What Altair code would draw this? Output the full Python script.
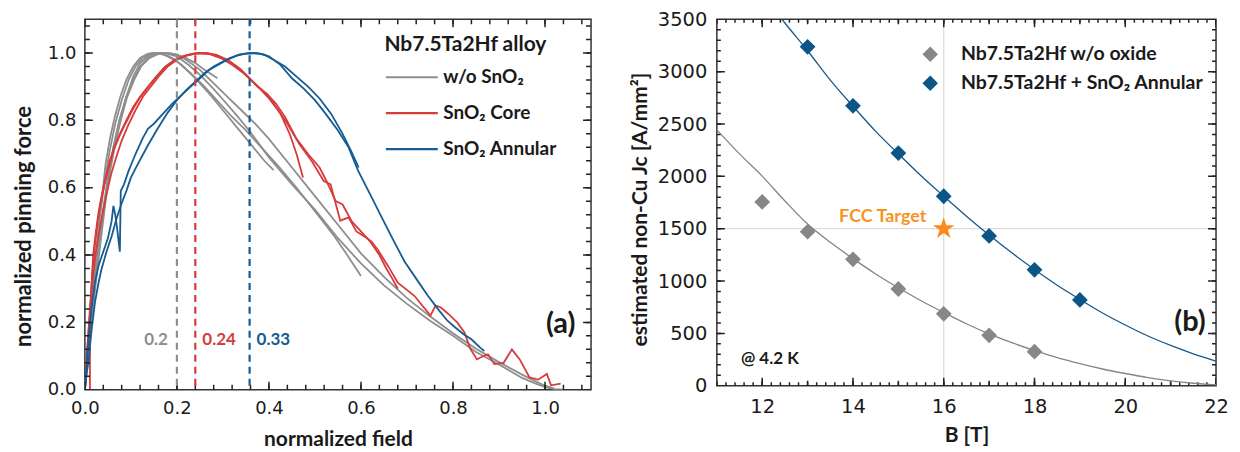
import altair as alt
import pandas as pd

# ---------------- panel (a): normalized pinning force vs normalized field ----------------
g1_x = [0.0, 0.005, 0.01, 0.015, 0.02, 0.025, 0.03, 0.037, 0.045, 0.055, 0.065, 0.077, 0.09, 0.105, 0.12, 0.135, 0.15,
        0.175, 0.2, 0.225, 0.25, 0.275, 0.3, 0.33, 0.357, 0.4, 0.45, 0.5, 0.55, 0.6, 0.65, 0.7, 0.75, 0.8, 0.85, 0.9,
        0.95, 0.98, 1.0, 1.02, 1.04]
g1_y = [0.0, 0.1, 0.17, 0.24, 0.32, 0.4, 0.48, 0.57, 0.67, 0.75, 0.81, 0.87, 0.92, 0.96, 0.985, 0.997, 1.0,
        1.0, 0.99, 0.965, 0.935, 0.9, 0.862, 0.815, 0.77, 0.69, 0.61, 0.535, 0.45, 0.375, 0.31, 0.255, 0.205, 0.16,
        0.112, 0.075, 0.035, 0.018, 0.008, 0.002, 0.0]

g2_x = [0.0, 0.006, 0.012, 0.02, 0.028, 0.036, 0.045, 0.055, 0.066, 0.078, 0.092, 0.107, 0.122, 0.14, 0.16, 0.18,
        0.2, 0.22, 0.25, 0.28, 0.31, 0.34, 0.37, 0.4, 0.45, 0.5, 0.55, 0.6, 0.65, 0.7, 0.75, 0.8, 0.85, 0.9, 0.95,
        0.98, 1.0, 1.02]
g2_y = [0.0, 0.09, 0.17, 0.27, 0.37, 0.46, 0.56, 0.65, 0.73, 0.8, 0.87, 0.92, 0.96, 0.985, 0.997, 1.0,
        0.995, 0.98, 0.95, 0.91, 0.87, 0.83, 0.79, 0.745, 0.66, 0.575, 0.49, 0.405, 0.335, 0.272, 0.218, 0.168,
        0.122, 0.082, 0.045, 0.025, 0.012, 0.003]

g3_x = [0.0, 0.007, 0.015, 0.024, 0.033, 0.043, 0.054, 0.066, 0.08, 0.095, 0.11, 0.125, 0.14, 0.16, 0.18, 0.2,
        0.23, 0.26, 0.29, 0.32, 0.35, 0.38, 0.42, 0.46, 0.5, 0.54, 0.57, 0.6]
g3_y = [0.0, 0.14, 0.27, 0.4, 0.52, 0.62, 0.71, 0.79, 0.86, 0.92, 0.96, 0.985, 0.998, 1.0, 0.99, 0.975,
        0.94, 0.9, 0.855, 0.81, 0.77, 0.725, 0.665, 0.6, 0.53, 0.46, 0.4, 0.338]

g4_x = [0.0, 0.01, 0.02, 0.03, 0.04, 0.05, 0.062, 0.075, 0.09, 0.105, 0.12, 0.135, 0.15, 0.17, 0.19, 0.21, 0.24,
        0.27, 0.3, 0.33, 0.36, 0.39, 0.41]
g4_y = [0.0, 0.15, 0.3, 0.43, 0.54, 0.63, 0.72, 0.8, 0.87, 0.93, 0.97, 0.99, 1.0, 0.998, 0.985, 0.965, 0.925,
        0.88, 0.83, 0.78, 0.73, 0.68, 0.652]

g5_x = [0.0, 0.008, 0.018, 0.028, 0.038, 0.05, 0.062, 0.075, 0.09, 0.105, 0.12, 0.14, 0.16, 0.18, 0.2, 0.22,
        0.24, 0.26, 0.288]
g5_y = [0.0, 0.12, 0.26, 0.38, 0.5, 0.62, 0.72, 0.8, 0.87, 0.92, 0.96, 0.99, 1.0, 1.0, 0.995, 0.985,
        0.97, 0.95, 0.925]

r1_x = [0.011, 0.011, 0.014, 0.018, 0.024, 0.03, 0.037, 0.045, 0.054, 0.064, 0.076, 0.09, 0.105, 0.12, 0.137,
        0.155, 0.175, 0.195, 0.215, 0.24, 0.265, 0.29, 0.315, 0.34, 0.36, 0.38, 0.4, 0.42, 0.44, 0.466, 0.494,
        0.519, 0.534, 0.555, 0.573, 0.59, 0.609, 0.623, 0.637, 0.659, 0.68, 0.716, 0.751, 0.762, 0.773, 0.79,
        0.809, 0.825, 0.837, 0.852, 0.866, 0.876, 0.89, 0.91, 0.928, 0.945, 0.966, 0.985, 1.004, 1.013, 1.034]
r1_y = [0.0, 0.2, 0.3, 0.4, 0.47, 0.53, 0.58, 0.63, 0.68, 0.72, 0.76, 0.8, 0.84, 0.87, 0.9,
        0.93, 0.96, 0.98, 0.99, 0.998, 1.0, 0.99, 0.975, 0.95, 0.92, 0.895, 0.865, 0.83, 0.79, 0.73, 0.677,
        0.62, 0.61, 0.502, 0.512, 0.47, 0.454, 0.44, 0.415, 0.367, 0.318, 0.279, 0.22, 0.25, 0.245, 0.225,
        0.2, 0.17, 0.123, 0.09, 0.1, 0.105, 0.076, 0.08, 0.12, 0.09, 0.037, 0.03, 0.047, 0.013, 0.018]

r2_x = [0.0, 0.004, 0.01, 0.016, 0.022, 0.028, 0.035, 0.043, 0.052, 0.062, 0.074, 0.088, 0.103, 0.118, 0.135,
        0.153, 0.172, 0.192, 0.212, 0.235, 0.26, 0.285, 0.31, 0.335, 0.355, 0.375, 0.395, 0.415, 0.435, 0.46,
        0.485, 0.51, 0.525, 0.545, 0.56, 0.58, 0.6, 0.62, 0.64, 0.655, 0.668, 0.68]
r2_y = [0.0, 0.1, 0.22, 0.34, 0.43, 0.5, 0.56, 0.61, 0.66, 0.71, 0.75, 0.79, 0.83, 0.865, 0.895,
        0.925, 0.955, 0.975, 0.99, 0.998, 1.0, 0.995, 0.98, 0.955, 0.93, 0.9, 0.88, 0.85, 0.81, 0.745,
        0.7, 0.66, 0.62, 0.56, 0.55, 0.5, 0.47, 0.44, 0.4, 0.36, 0.33, 0.3]

r3_x = [0.0, 0.008, 0.015, 0.022, 0.03, 0.038, 0.047, 0.057, 0.068, 0.08, 0.094, 0.11, 0.126, 0.143, 0.16, 0.18,
        0.2, 0.22, 0.245, 0.27, 0.295, 0.32, 0.345, 0.365, 0.385, 0.405, 0.425, 0.445, 0.46, 0.474]
r3_y = [0.0, 0.17, 0.3, 0.39, 0.46, 0.52, 0.58, 0.64, 0.69, 0.74, 0.785, 0.83, 0.87, 0.9, 0.93, 0.96,
        0.98, 0.993, 1.0, 0.997, 0.985, 0.965, 0.94, 0.915, 0.89, 0.86, 0.82, 0.76, 0.7, 0.63]

b1_x = [0.0, 0.004, 0.008, 0.014, 0.022, 0.03, 0.036, 0.047, 0.058, 0.068, 0.079, 0.09, 0.1, 0.115, 0.137, 0.158,
        0.18, 0.2, 0.22, 0.236, 0.26, 0.28, 0.294, 0.315, 0.337, 0.36, 0.38, 0.4, 0.425, 0.45, 0.475, 0.5, 0.523,
        0.55, 0.573, 0.594, 0.62, 0.644, 0.67, 0.695, 0.72, 0.745, 0.77, 0.788, 0.805, 0.823, 0.84, 0.859, 0.868]
b1_y = [0.0, 0.05, 0.085, 0.17, 0.26, 0.32, 0.357, 0.41, 0.455, 0.505, 0.55, 0.59, 0.63, 0.67, 0.726, 0.775,
        0.823, 0.86, 0.89, 0.91, 0.94, 0.96, 0.97, 0.985, 0.996, 1.0, 0.998, 0.99, 0.965, 0.925, 0.895, 0.86, 0.82,
        0.77, 0.72, 0.65, 0.58, 0.515, 0.445, 0.38, 0.33, 0.28, 0.235, 0.205, 0.185, 0.165, 0.15, 0.125, 0.115]

b2_x = [0.0, 0.005, 0.01, 0.016, 0.022, 0.03, 0.04, 0.05, 0.058, 0.062, 0.066, 0.07, 0.076, 0.078, 0.085, 0.095,
        0.11, 0.125, 0.137, 0.15, 0.17, 0.19, 0.21, 0.23, 0.25, 0.27, 0.29, 0.31, 0.33, 0.35, 0.37, 0.39, 0.41,
        0.435, 0.46, 0.485, 0.51, 0.535, 0.56, 0.58, 0.595]
b2_y = [0.0, 0.1, 0.18, 0.26, 0.32, 0.37, 0.41, 0.45, 0.5, 0.546, 0.52, 0.48, 0.41, 0.59, 0.61, 0.65,
        0.7, 0.745, 0.775, 0.79, 0.82, 0.85, 0.875, 0.9, 0.925, 0.95, 0.965, 0.98, 0.992, 0.998, 1.0, 0.995, 0.98,
        0.96, 0.93, 0.9, 0.865, 0.82, 0.76, 0.705, 0.66]

groups_a = ["w/o SnO₂", "SnO₂ Core", "SnO₂ Annular"]
peak_x = [0.2, 0.24, 0.358]
peak_text = ["0.2", "0.24", "0.33"]
peak_label_y = [0.147]
panel_a_x = [1.002]
panel_a_y = [0.196]

x_ticks_a = [0.0, 0.2, 0.4, 0.6, 0.8, 1.0]
y_ticks_a = [0.0, 0.2, 0.4, 0.6, 0.8, 1.0]
minor_ticks_a = [round(0.04 * i, 2) for i in range(28)]
edges_a = {"bottom": 0.0, "top": 1.1, "left": 0.0, "right": 1.1}

# ---------------- panel (b): estimated non-Cu Jc vs B ----------------
b_field_gray = [12, 13, 14, 15, 16, 17, 18]
jc_gray = [1756, 1472, 1208, 924, 687, 482, 325]
b_field_blue = [13, 14, 15, 16, 17, 18, 19]
jc_blue = [3238, 2674, 2223, 1810, 1431, 1107, 820]

fit_gray_b = [11, 11.5, 12, 12.5, 13, 13.5, 14, 14.5, 15, 15.5, 16, 16.5, 17, 17.5, 18, 18.5, 19, 19.5, 20,
              20.5, 21, 21.5, 22]
fit_gray_jc = [2444, 2215, 2002, 1765, 1545, 1370, 1214, 1068, 936, 812, 700, 592, 495, 411, 337, 268, 211, 160,
               117, 78, 47, 24, 9]
fit_blue_b = [12.4, 12.5, 13, 13.5, 14, 14.5, 15, 15.5, 16, 16.5, 17, 17.5, 18, 18.5, 19, 19.5, 20, 20.5, 21,
              21.5, 22]
fit_blue_jc = [3520, 3465, 3200, 2920, 2670, 2430, 2215, 2005, 1810, 1620, 1440, 1270, 1110, 960, 825, 695, 580,
               475, 385, 305, 236]

series_b = ["Nb7.5Ta2Hf w/o oxide", "Nb7.5Ta2Hf + SnO₂ Annular"]
target_b = [16]
target_jc = [1500]
grid_b = [16]
grid_jc = [1500]
note_fcc = {"x": [15.62], "y": [1614], "t": ["FCC Target"]}
note_temp = {"x": [11.53], "y": [253], "t": ["@ 4.2 K"]}
note_b = {"x": [21.08], "y": [610], "t": ["(b)"]}

x_ticks_b = [12, 14, 16, 18, 20, 22]
mid_ticks_b = list(range(11, 23))
minor_x_b = [round(11 + 0.2 * i, 1) for i in range(56)]
y_ticks_b = [0, 500, 1000, 1500, 2000, 2500, 3000, 3500]
minor_y_b = [100 * i for i in range(36)]
edges_b = {"bottom": 0, "top": 3500, "left": 11, "right": 22}

# ---------------- styles ----------------
GRAY, RED, BLUE = "#8e8e8e", "#d63c3c", "#145c93"
BOLD = "Lato, 'DejaVu Sans'"
NUM = "DejaVu Sans"
TICK = "#222222"
INK = "#1a1a1a"


def main_axis(values, title, fmt, label_size, label_pad, title_size, title_pad, **kw):
    return alt.Axis(values=values, ticks=False, domain=False, grid=False, labels=True, format=fmt,
                    labelFlush=False, labelFont=NUM, labelFontSize=label_size, labelColor=INK,
                    labelPadding=label_pad, title=title, titleFont=BOLD, titleFontWeight="bold",
                    titleFontSize=title_size, titleColor=INK, titlePadding=title_pad, **kw)


sx_a = alt.Scale(domain=[0, 1.1], nice=False, zero=False)
sy_a = alt.Scale(domain=[0, 1.1], nice=False, zero=False)
xax_a = main_axis(x_ticks_a, "normalized field", ".1f", 18, 10, 21, 11)
yax_a = main_axis(y_ticks_a, "normalized pinning force", ".1f", 18, 9, 22, 12, titleY=207)

sx_b = alt.Scale(domain=[11, 22], nice=False, zero=False)
sy_b = alt.Scale(domain=[0, 3500], nice=False, zero=False)
xax_b = main_axis(x_ticks_b, "B [T]", "d", 19.5, 12, 21, 8)
yax_b = main_axis(y_ticks_b, "estimated non-Cu Jc [A/mm²]", "d", 19.5, 10, 21, 7, titleY=190)

SX = {"a": sx_a, "b": sx_b}
SY = {"a": sy_a, "b": sy_b}


def X(panel, with_axis=False):
    if with_axis:
        return alt.X("x:Q", scale=SX[panel], axis=xax_a if panel == "a" else xax_b)
    return alt.X("x:Q", scale=SX[panel], axis=None)


def Y(panel, with_axis=False):
    if with_axis:
        return alt.Y("y:Q", scale=SY[panel], axis=yax_a if panel == "a" else yax_b)
    return alt.Y("y:Q", scale=SY[panel], axis=None)


def edge_ticks(values, sides, half, panel):
    """Inward tick marks: a tick centred on a frame edge, clipped so only the inner half shows."""
    edges = edges_a if panel == "a" else edges_b
    layers = []
    for side in sides:
        e = edges[side]
        if side in ("bottom", "top"):
            df = pd.DataFrame({"x": values, "y": [e] * len(values)})
            orient = "vertical"
        else:
            df = pd.DataFrame({"x": [e] * len(values), "y": values})
            orient = "horizontal"
        layers.append(alt.Chart(df).mark_tick(orient=orient, size=2 * half, thickness=1.5, color=TICK,
                                              opacity=1, clip=True).encode(x=X(panel), y=Y(panel)))
    return layers


# ---------------- build panel (a) ----------------
curves = [("g1", 0, g1_x, g1_y), ("g2", 0, g2_x, g2_y), ("g3", 0, g3_x, g3_y), ("g4", 0, g4_x, g4_y),
          ("g5", 0, g5_x, g5_y), ("r1", 1, r1_x, r1_y), ("r2", 1, r2_x, r2_y), ("r3", 1, r3_x, r3_y),
          ("b1", 2, b1_x, b1_y), ("b2", 2, b2_x, b2_y)]
rows = []
for cid, gi, xs, ys in curves:
    for i, (xv, yv) in enumerate(zip(xs, ys)):
        rows.append({"curve": cid, "group": groups_a[gi], "x": xv, "y": yv, "i": i})
dfa = pd.DataFrame(rows)

legend_a = alt.Legend(orient="none", legendX=300, legendY=15, title="Nb7.5Ta2Hf alloy", titleFont=BOLD,
                      titleFontWeight="bold", titleFontSize=21, titleColor=INK, titlePadding=14,
                      labelFont=BOLD, labelFontWeight="bold", labelFontSize=19, labelColor=INK, labelLimit=400,
                      symbolType="stroke", symbolSize=2704, symbolStrokeWidth=2.2, clipHeight=16,
                      rowPadding=17, labelOffset=4, padding=0)

lines_a = alt.Chart(dfa).mark_line(strokeWidth=1.8, clip=True).encode(
    x=X("a", True), y=Y("a", True),
    color=alt.Color("group:N", scale=alt.Scale(domain=groups_a, range=[GRAY, RED, BLUE]), legend=legend_a),
    detail="curve:N",
    order="i:Q",
)

ticks_a = (edge_ticks(x_ticks_a, ["bottom", "top"], 8, "a") + edge_ticks(minor_ticks_a, ["bottom", "top"], 5, "a")
           + edge_ticks(y_ticks_a, ["left", "right"], 8, "a") + edge_ticks(minor_ticks_a, ["left", "right"], 5, "a"))

peak_layers = []
for px, pt, col, al, dx in zip(peak_x, peak_text, [GRAY, RED, BLUE], ["right", "left", "left"], [-9, 7, 7]):
    d = pd.DataFrame({"x": [px], "y": peak_label_y, "t": [pt]})
    peak_layers.append(alt.Chart(d).mark_rule(color=col, strokeDash=[7, 5], strokeWidth=2.2).encode(x=X("a")))
    peak_layers.append(alt.Chart(d).mark_text(color=col, align=al, dx=dx, baseline="middle", font=BOLD,
                                              fontWeight="bold", fontSize=17).encode(
        x=X("a"), y=Y("a"), text="t:N"))

label_a = alt.Chart(pd.DataFrame({"x": panel_a_x, "y": panel_a_y, "t": ["(a)"]})).mark_text(
    align="left", baseline="middle", font=BOLD, fontWeight="bold", fontSize=29, color=INK).encode(
    x=X("a"), y=Y("a"), text="t:N")

panel_a = alt.layer(lines_a, *ticks_a, *peak_layers, label_a).resolve_axis(
    x="independent", y="independent").properties(width=507, height=371)

# ---------------- build panel (b) ----------------
pts_b = pd.concat([
    pd.DataFrame({"x": b_field_gray, "y": jc_gray, "s": series_b[0]}),
    pd.DataFrame({"x": b_field_blue, "y": jc_blue, "s": series_b[1]}),
])
fit_g = pd.DataFrame({"x": fit_gray_b, "y": fit_gray_jc})
fit_bl = pd.DataFrame({"x": fit_blue_b, "y": fit_blue_jc})

legend_b = alt.Legend(orient="none", legendX=204, legendY=25, title=None, labelFont=BOLD, labelFontWeight="bold",
                      labelFontSize=19.5, labelColor=INK, labelLimit=400, symbolType="diamond", symbolSize=240,
                      symbolStrokeWidth=0, clipHeight=20, rowPadding=9, labelOffset=21, padding=0)

grid_x = alt.Chart(pd.DataFrame({"x": grid_b})).mark_rule(color="#d4d4d4", strokeWidth=1).encode(x=X("b"))
grid_y = alt.Chart(pd.DataFrame({"y": grid_jc})).mark_rule(color="#d4d4d4", strokeWidth=1).encode(y=Y("b"))

line_g = alt.Chart(fit_g).mark_line(color="#858585", strokeWidth=1.3, interpolate="monotone", clip=True).encode(
    x=X("b"), y=Y("b"))
line_bl = alt.Chart(fit_bl).mark_line(color="#15598c", strokeWidth=1.3, interpolate="monotone", clip=True).encode(
    x=X("b"), y=Y("b"))

diamonds = alt.Chart(pts_b).mark_point(shape="diamond", filled=True, size=250, opacity=1).encode(
    x=X("b", True), y=Y("b", True),
    color=alt.Color("s:N", scale=alt.Scale(domain=series_b, range=["#878787", "#0b5587"]), legend=legend_b),
)

STAR = ("M0,-1L0.2245,-0.309L0.951,-0.309L0.363,0.118L0.588,0.809L0,0.382L-0.588,0.809L-0.363,0.118"
        "L-0.951,-0.309L-0.2245,-0.309Z")
star = alt.Chart(pd.DataFrame({"x": target_b, "y": target_jc})).mark_point(
    shape=STAR, filled=True, size=520, color="#fb8a1a", opacity=1).encode(x=X("b"), y=Y("b"))


def note(d, color, size, align):
    return alt.Chart(pd.DataFrame(d)).mark_text(align=align, baseline="middle", font=BOLD, fontWeight="bold",
                                                fontSize=size, color=color).encode(
        x=X("b"), y=Y("b"), text="t:N")


notes_b = [note(note_fcc, "#f7931e", 18, "right"), note(note_temp, INK, 17, "left"), note(note_b, INK, 29, "left")]

ticks_b = (edge_ticks(x_ticks_b, ["bottom", "top"], 8, "b") + edge_ticks(mid_ticks_b, ["bottom", "top"], 5, "b")
           + edge_ticks(minor_x_b, ["bottom", "top"], 3.5, "b") + edge_ticks(y_ticks_b, ["left", "right"], 8, "b")
           + edge_ticks(minor_y_b, ["left", "right"], 4, "b"))

panel_b = alt.layer(grid_x, grid_y, *ticks_b, line_g, line_bl, diamonds, star, *notes_b).resolve_axis(
    x="independent", y="independent").properties(width=500, height=367)

chart = alt.hconcat(panel_a, panel_b, spacing=36).resolve_scale(color="independent").resolve_legend(
    color="independent").configure_view(stroke="#333333", strokeWidth=1.5).properties(
    padding={"left": 3, "top": 0, "right": 2, "bottom": 0}, background="white")

chart.save("out.html", embed_options={"renderer": "svg", "actions": False})
